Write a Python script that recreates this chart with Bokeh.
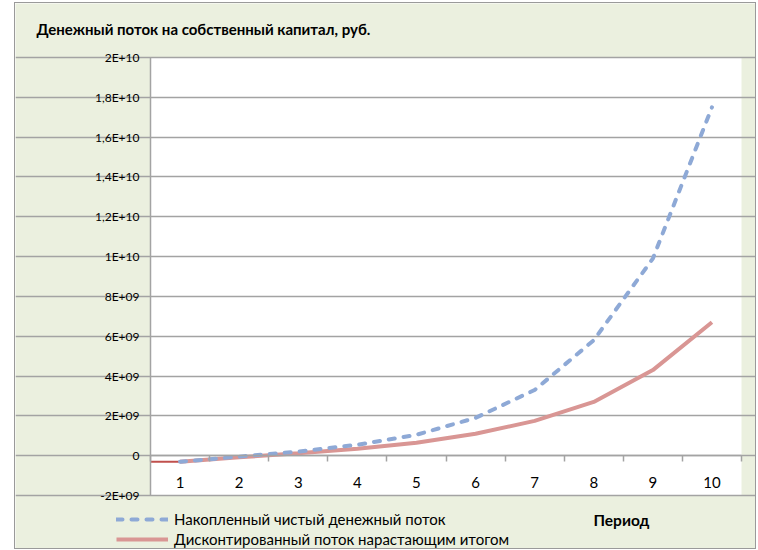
from bokeh.plotting import figure
from bokeh.models import (FixedTicker, Legend, LegendItem, Label, Range1d, BoxAnnotation)
from bokeh.embed import file_html
from bokeh.resources import INLINE

periods = [1, 2, 3, 4, 5, 6, 7, 8, 9, 10]
period_labels = ["1", "2", "3", "4", "5", "6", "7", "8", "9", "10"]
accumulated = [-3.0e8, -5.0e7, 2.0e8, 5.5e8, 1.05e9, 1.9e9, 3.3e9, 5.8e9, 9.9e9, 1.75e10]
discounted = [-3.0e8, -8.0e7, 1.2e8, 3.5e8, 6.5e8, 1.1e9, 1.75e9, 2.7e9, 4.3e9, 6.7e9]
y_ticks = [-2e9, 0, 2e9, 4e9, 6e9, 8e9, 1e10, 1.2e10, 1.4e10, 1.6e10, 1.8e10, 2e10]
y_tick_labels = ["-2E+09", "0", "2E+09", "4E+09", "6E+09", "8E+09", "1E+10",
                 "1,2E+10", "1,4E+10", "1,6E+10", "1,8E+10", "2E+10"]

title_text = "Денежный поток на собственный капитал, руб."
series1_name = "Накопленный чистый денежный поток"
series2_name = "Дисконтированный поток нарастающим итогом"
x_title = "Период"

FONT = "Lato"
BG = "#EBF0DF"
GRID = "#A3A3A3"

# geometry (page pixels)
FIG_L, FIG_T, FIG_W, FIG_H = 14, 2, 742, 547
PA_L, PA_R, PA_T, PA_B = 149, 740, 56, 494

x0 = periods[0] - 0.5
x1 = periods[-1] + 0.5
y0, y1 = y_ticks[0], y_ticks[-1]
kx = (x1 - x0) / (PA_R - PA_L)
ky = (y1 - y0) / (PA_B - PA_T)


def px_x(px):
    return x0 + (px - PA_L) * kx


def px_y(py):
    return y0 + (PA_B - py) * ky


p = figure(width=FIG_W, height=FIG_H, output_backend="svg", toolbar_location=None,
           x_range=Range1d(px_x(FIG_L), px_x(FIG_L + FIG_W)),
           y_range=Range1d(px_y(FIG_T + FIG_H), px_y(FIG_T)),
           min_border=0)
p.background_fill_color = BG
p.border_fill_color = BG
p.outline_line_color = None
p.styles = {"border": "1px solid #9A9A9A", "box-sizing": "border-box",
            "margin-left": f"{FIG_L}px", "margin-top": f"{FIG_T}px"}

# white plot area
p.add_layout(BoxAnnotation(left=x0, right=x1, bottom=y0, top=y1, fill_color="white",
                           fill_alpha=1, line_color=None, level="image"))

# y axis
p.yaxis.fixed_location = x0
p.yaxis.bounds = (y0, y1)
p.yaxis.ticker = FixedTicker(ticks=y_ticks)
p.yaxis.major_label_overrides = {t: l for t, l in zip(y_ticks, y_tick_labels)}
p.yaxis.major_label_text_font = FONT
p.yaxis.major_label_text_font_size = "12px"
p.yaxis.major_label_text_color = "black"
p.yaxis.axis_line_color = GRID
p.yaxis.axis_line_width = 1.5
p.yaxis.major_tick_line_color = GRID
p.yaxis.major_tick_out = 5
p.yaxis.major_tick_in = 0
p.yaxis.minor_tick_line_color = None
p.yaxis.major_label_standoff = 6

p.ygrid.ticker = FixedTicker(ticks=y_ticks)
p.ygrid.bounds = (x0, x1)
p.ygrid.grid_line_color = GRID
p.ygrid.grid_line_width = 1.5
p.xgrid.grid_line_color = None

# x axis at zero, category ticks between periods
half = [x - 0.5 for x in periods] + [periods[-1] + 0.5]
p.xaxis.ticker = FixedTicker(ticks=periods, minor_ticks=half)
p.xaxis.major_label_overrides = {t: l for t, l in zip(periods, period_labels)}
p.xaxis.fixed_location = 0
p.xaxis.bounds = (x0, x1)
p.xaxis.axis_line_color = GRID
p.xaxis.axis_line_width = 1.5
p.xaxis.major_tick_line_color = None
p.xaxis.major_tick_out = 0
p.xaxis.major_tick_in = 0
p.xaxis.minor_tick_line_color = GRID
p.xaxis.minor_tick_line_width = 1.5
p.xaxis.minor_tick_out = 6
p.xaxis.minor_tick_in = 0
p.xaxis.major_label_standoff = 15
p.xaxis.major_label_text_font = FONT
p.xaxis.major_label_text_font_size = "15px"
p.xaxis.major_label_text_color = "black"

# lead-in segment from the plot edge
p.line(x=[x0, periods[0]], y=[discounted[0], discounted[0]],
       line_color="#C0504D", line_width=2)

r2 = p.line(x=periods, y=discounted, line_color="#D99694", line_width=4)
r1 = p.line(x=periods, y=accumulated, line_color="#8EA9D6", line_width=4,
            line_dash="6 9", line_cap="round")

legend = Legend(items=[LegendItem(label=series1_name, renderers=[r1]),
                       LegendItem(label=series2_name, renderers=[r2])],
                location=(115 - FIG_L, 1), orientation="vertical")
legend.background_fill_alpha = 0
legend.border_line_color = None
legend.padding = 0
legend.margin = 0
legend.spacing = 0
legend.glyph_width = 52
legend.glyph_height = 20
legend.label_standoff = 6
legend.label_text_font = FONT
legend.label_text_font_size = "15px"
legend.label_text_color = "black"
p.add_layout(legend, "center")

p.add_layout(Label(x=px_x(35), y=px_y(27), text=title_text, text_font=FONT,
                   text_font_size="15px", text_font_style="bold",
                   text_color="black", text_baseline="middle"))
p.add_layout(Label(x=px_x(592), y=px_y(518), text=x_title, text_font=FONT,
                   text_font_size="15.5px", text_font_style="bold",
                   text_color="black", text_baseline="middle"))

open("out.html", "w").write(file_html(p, INLINE))
